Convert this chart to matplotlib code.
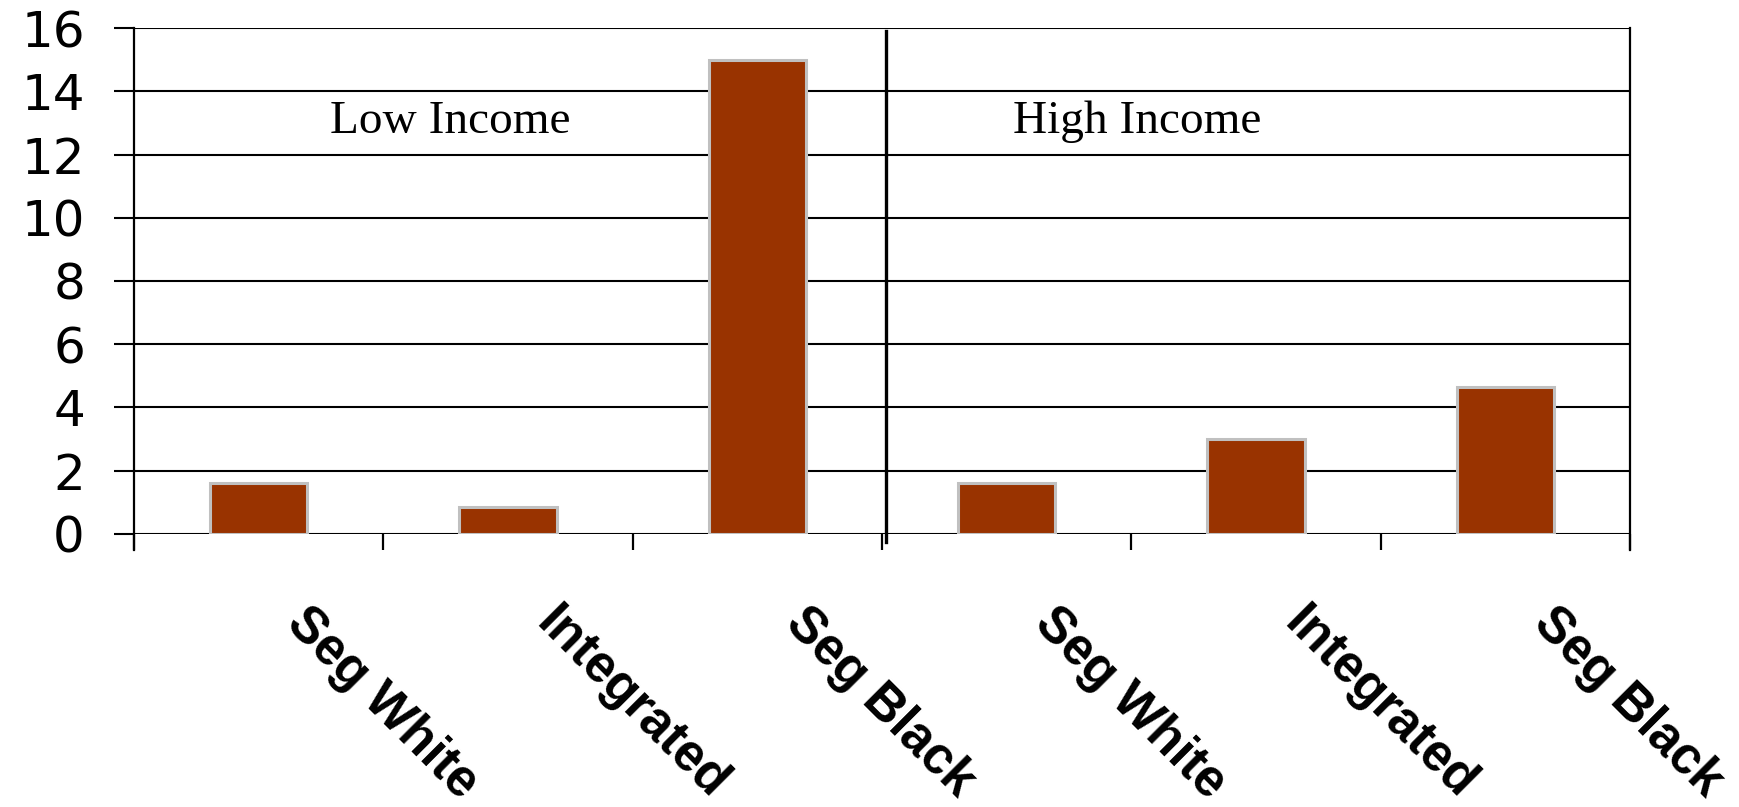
import numpy as np
import matplotlib
matplotlib.use("Agg")
import matplotlib.pyplot as plt
import matplotlib.transforms as mtransforms

# data
categories = ["Seg White", "Integrated", "Seg Black", "Seg White", "Integrated", "Seg Black"]
values = [1.6, 0.85, 15.0, 1.6, 3.0, 4.65]
group_labels = ["Low Income", "High Income"]
y_ticks = [0, 2, 4, 6, 8, 10, 12, 14, 16]

bar_color = "#993300"
edge_color = "#c0c0c0"

fig = plt.figure(figsize=(17.39, 8.07), dpi=100)
ax = fig.add_axes([0.0771, 0.3383, 0.9373 - 0.0771, 0.9653 - 0.3383])

x = np.arange(len(categories)) + 0.5
ax.bar(x, values, width=0.39, color=bar_color, edgecolor=edge_color, linewidth=2.2, zorder=3)

ax.set_xlim(0, len(categories))
ax.set_ylim(0, 16)

# horizontal gridlines, black
ax.set_yticks(y_ticks)
ax.yaxis.grid(True, color="black", linewidth=1.5, zorder=1)
ax.set_axisbelow(True)
ax.tick_params(axis="y", length=14.4, width=1.5, pad=21, labelsize=36, color="black")

# ticks at category boundaries, no labels on them
ax.set_xticks(np.arange(len(categories) + 1))
ax.set_xticklabels([])
ax.tick_params(axis="x", length=11.5, width=1.6, color="black")

for side in ["top", "bottom"]:
    ax.spines[side].set_visible(False)
ax.spines["left"].set_linewidth(1.6)
ax.spines["right"].set_linewidth(1.6)
ax.spines["left"].set_bounds(-0.5, 16)
ax.spines["right"].set_bounds(-0.5, 16)

# divider between income groups
ax.plot([3.015, 3.015], [-0.25, 15.92], color="black", linewidth=2.4, clip_on=False, zorder=4)

ax.text(0.786, 12.69, group_labels[0], family="Liberation Serif", fontsize=34,
        ha="left", va="baseline")
ax.text(3.526, 12.69, group_labels[1], family="Liberation Serif", fontsize=34,
        ha="left", va="baseline")

# rotated category labels below the axis
off = mtransforms.ScaledTranslation(53 / 100, -64 / 100, fig.dpi_scale_trans)
trans = mtransforms.blended_transform_factory(ax.transData, ax.transAxes) + off
for xi, lab in zip(x, categories):
    ax.text(xi, 0, lab, transform=trans, rotation=-45, rotation_mode="anchor",
            ha="left", va="top", fontsize=37, fontweight="bold",
            family="Liberation Sans")

fig.savefig("out.png", dpi=100)
